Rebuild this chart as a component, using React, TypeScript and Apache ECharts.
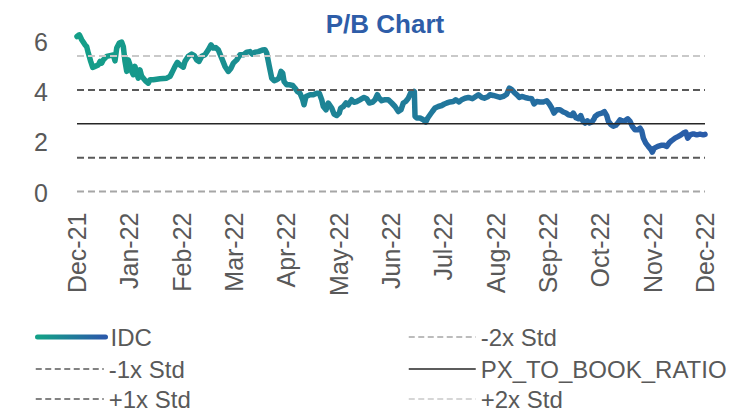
import React, { useEffect, useRef } from "react";
import * as echarts from "echarts";

// Tick labels (one per month, evenly spaced on the x axis)
const monthLabels = [
  "Dec-21", "Jan-22", "Feb-22", "Mar-22", "Apr-22", "May-22", "Jun-22",
  "Jul-22", "Aug-22", "Sep-22", "Oct-22", "Nov-22", "Dec-22",
];

// Position of each observation, in months since Dec-21
const monthPos = [
  0.0, 0.044, 0.09, 0.153, 0.185, 0.216, 0.262, 0.3, 0.344, 0.407, 0.44, 0.472, 0.503, 0.568, 0.631, 0.694,
  0.726, 0.759, 0.808, 0.854, 0.885, 0.917, 0.95, 0.98, 1.013, 1.045, 1.076, 1.108, 1.141, 1.171, 1.204,
  1.236, 1.267, 1.319, 1.363, 1.395, 1.458, 1.586, 1.714, 1.777, 1.81, 1.873, 1.917, 1.968, 2.031, 2.064,
  2.127, 2.192, 2.242, 2.287, 2.331, 2.383, 2.446, 2.509, 2.561, 2.605, 2.651, 2.7, 2.765, 2.828, 2.891,
  2.943, 2.987, 3.052, 3.115, 3.178, 3.243, 3.306, 3.35, 3.401, 3.465, 3.541, 3.593, 3.625, 3.669, 3.721,
  3.77, 3.816, 3.86, 3.898, 3.931, 3.956, 4.007, 4.057, 4.122, 4.166, 4.21, 4.261, 4.313, 4.338, 4.376,
  4.453, 4.516, 4.581, 4.63, 4.676, 4.707, 4.758, 4.802, 4.867, 4.911, 4.963, 5.012, 5.039, 5.089, 5.14,
  5.184, 5.249, 5.293, 5.345, 5.408, 5.484, 5.536, 5.586, 5.651, 5.695, 5.739, 5.777, 5.823, 5.886, 5.949,
  6.014, 6.077, 6.14, 6.191, 6.235, 6.281, 6.331, 6.383, 6.407, 6.446, 6.459, 6.492, 6.555, 6.618, 6.664,
  6.702, 6.746, 6.79, 6.841, 6.904, 6.969, 7.019, 7.065, 7.128, 7.191, 7.237, 7.3, 7.351, 7.414, 7.478,
  7.554, 7.619, 7.669, 7.734, 7.783, 7.86, 7.892, 7.955, 8.02, 8.083, 8.146, 8.211, 8.261, 8.307, 8.351,
  8.403, 8.452, 8.498, 8.561, 8.624, 8.689, 8.733, 8.785, 8.848, 8.911, 8.976, 9.025, 9.071, 9.115, 9.167,
  9.23, 9.293, 9.344, 9.389, 9.453, 9.484, 9.535, 9.58, 9.625, 9.664, 9.708, 9.752, 9.79, 9.836, 9.88,
  9.899, 9.962, 10.027, 10.077, 10.122, 10.153, 10.205, 10.248, 10.294, 10.333, 10.377, 10.421, 10.472,
  10.524, 10.568, 10.612, 10.663, 10.715, 10.759, 10.791, 10.822, 10.868, 10.917, 10.969, 10.994, 11.032,
  11.097, 11.16, 11.223, 11.269, 11.313, 11.364, 11.427, 11.491, 11.542, 11.586, 11.632, 11.67, 11.715,
  11.758, 11.796, 11.842, 11.905, 11.968, 12.0,
];

// IDC price-to-book ratio
const pbValues = [
  6.22, 6.29, 6.09, 5.89, 5.82, 5.56, 5.23, 4.99, 5.03, 5.09, 5.23, 5.16, 5.29, 5.43, 5.46, 5.49,
  5.25, 5.76, 5.96, 6.0, 5.82, 5.23, 4.83, 5.29, 5.09, 4.83, 4.7, 5.03, 4.76, 4.56, 4.89,
  4.63, 4.56, 4.43, 4.36, 4.5, 4.5, 4.54, 4.56, 4.63, 4.76, 5.03, 5.19, 5.09, 5.0, 5.23,
  5.43, 5.52, 5.46, 5.29, 5.23, 5.43, 5.49, 5.69, 5.89, 5.76, 5.78, 5.69, 5.36, 5.03, 4.83,
  4.96, 5.16, 5.29, 5.49, 5.49, 5.6, 5.62, 5.52, 5.6, 5.62, 5.68, 5.69, 5.56, 5.09, 4.56,
  4.46, 4.5, 4.56, 4.83, 4.76, 4.43, 4.3, 4.3, 4.27, 4.16, 4.03, 3.96, 3.7, 3.5, 3.83,
  3.9, 3.9, 3.96, 3.96, 3.7, 3.43, 3.3, 3.57, 3.37, 3.13, 3.07, 3.17, 3.37, 3.43, 3.57,
  3.5, 3.7, 3.6, 3.63, 3.7, 3.79, 3.74, 3.57, 3.61, 3.7, 3.9, 3.76, 3.66, 3.7, 3.7,
  3.57, 3.43, 3.23, 3.3, 3.57, 3.63, 3.76, 4.0, 3.9, 4.03, 3.03, 2.97, 2.97, 2.9, 2.81,
  2.97, 3.1, 3.23, 3.37, 3.43, 3.47, 3.53, 3.57, 3.61, 3.63, 3.7, 3.61, 3.7, 3.76, 3.79,
  3.74, 3.83, 3.9, 3.79, 3.76, 3.83, 3.9, 3.87, 3.83, 3.79, 3.83, 3.92, 4.16, 4.1, 4.0,
  3.9, 3.79, 3.83, 3.79, 3.76, 3.74, 3.53, 3.63, 3.61, 3.61, 3.66, 3.53, 3.37, 3.17, 3.3,
  3.3, 3.21, 3.17, 3.1, 3.07, 3.17, 2.98, 2.94, 3.07, 2.86, 2.77, 2.86, 2.77, 2.81, 2.94,
  3.03, 3.13, 3.17, 3.23, 3.07, 2.84, 2.7, 2.64, 2.68, 2.77, 2.9, 2.84, 2.86,
  2.94, 2.84, 2.64, 2.5, 2.5, 2.57, 2.46, 2.17, 1.97, 1.84, 1.71, 1.61, 1.77,
  1.84, 1.88, 1.88, 1.84, 1.97, 2.07, 2.17, 2.24, 2.3, 2.37, 2.41, 2.17, 2.3,
  2.33, 2.33, 2.3, 2.33, 2.3, 2.32,
];

// Standard-deviation bands around the average P/B
const bandNames = ["-2x Std", "-1x Std", "PX_TO_BOOK_RATIO", "+1x Std", "+2x Std"];
const bandValues = [0.04, 1.39, 2.74, 4.09, 5.44];

// Y axis ticks
const yTicks = [0, 2, 4, 6];

const FONT = "'Liberation Sans', Arial, sans-serif";
const TEXT = "#595959";
const FS = 24;

const bandStyles: Record<string, any> = {
  "-2x Std": { color: "#a6a6a6", width: 2, type: [7, 4] },
  "-1x Std": { color: "#595959", width: 2, type: [7, 4] },
  PX_TO_BOOK_RATIO: { color: "#262626", width: 1.5, type: "solid" },
  "+1x Std": { color: "#595959", width: 2, type: [7, 4] },
  "+2x Std": { color: "#c9c9c9", width: 2, type: [7, 4] },
};

const GRAD_STOPS = [
  { offset: 0, color: "#149F88" },
  { offset: 1, color: "#2A5BA9" },
];

export default function App() {
  const ref = useRef<HTMLDivElement>(null);

  useEffect(() => {
    if (!ref.current) return;
    const chart = echarts.init(ref.current, null, { renderer: "svg" });

    const grad = new echarts.graphic.LinearGradient(0, 0, 1, 0, GRAD_STOPS);

    const idcData = monthPos.map((m, i) => [m, pbValues[i]]);
    const xStart = monthPos[0];
    const xEnd = monthPos[monthPos.length - 1];

    const series: any[] = [
      {
        name: "IDC",
        type: "line",
        data: idcData,
        symbol: "none",
        lineStyle: { color: grad, width: 5.5, cap: "round", join: "round" },
        itemStyle: { color: "#1F7D98" },
        z: 2,
      },
      ...bandNames.map((n, i) => ({
        name: n,
        type: "line",
        data: [
          [xStart, bandValues[i]],
          [xEnd, bandValues[i]],
        ],
        symbol: "none",
        lineStyle: bandStyles[n],
        itemStyle: { color: bandStyles[n].color },
        z: 3,
      })),
    ];

    const legendItems = [
      { name: "IDC", left: 35, w: 68, row: 0 },
      { name: "-1x Std", left: 35, w: 68, row: 1 },
      { name: "+1x Std", left: 35, w: 68, row: 2 },
      { name: "-2x Std", left: 408, w: 67, row: 0 },
      { name: "PX_TO_BOOK_RATIO", left: 408, w: 67, row: 1 },
      { name: "+2x Std", left: 408, w: 67, row: 2 },
    ];
    const rowCenters = [337, 369, 399];
    const LH = 24;

    const legends = legendItems.map((it) => {
      const st = bandStyles[it.name];
      const item: any = {
        name: it.name,
        itemStyle: { opacity: 0, color: "transparent", borderWidth: 0 },
      };
      if (st) {
        item.lineStyle = {
          color: st.color,
          width: 1.5,
          type: st.type === "solid" ? "solid" : [6, 3.5],
          opacity: 1,
        };
      } else {
        item.lineStyle = {
          color: new echarts.graphic.LinearGradient(3, 0, it.w - 3, 0, GRAD_STOPS, true),
          width: 5,
          cap: "round",
          opacity: 1,
        };
      }
      return {
        show: true,
        orient: "horizontal",
        left: it.left,
        top: rowCenters[it.row] - LH / 2,
        padding: 0,
        itemWidth: it.w,
        itemHeight: LH,
        selectedMode: false,
        data: [item],
        textStyle: {
          color: TEXT,
          fontSize: FS,
          lineHeight: LH,
          fontFamily: FONT,
        },
      };
    });

    chart.setOption({
      animation: false,
      backgroundColor: "#ffffff",
      title: {
        text: "P/B Chart",
        left: 385,
        top: 10,
        textAlign: "center",
        padding: 0,
        textStyle: {
          color: "#2E5DA8",
          fontSize: 26,
          fontWeight: "bold",
          fontFamily: FONT,
          lineHeight: 28,
        },
      },
      grid: {
        left: 77,
        right: 33,
        top: 17,
        bottom: 219.5,
        containLabel: false,
        outerBoundsMode: "none",
      },
      xAxis: {
        type: "value",
        min: 0,
        max: monthLabels.length - 1,
        interval: 1,
        axisLine: { show: false },
        axisTick: { show: false },
        splitLine: { show: false },
        axisLabel: {
          rotate: 90,
          margin: 20,
          color: TEXT,
          fontSize: 25,
          fontFamily: FONT,
          formatter: (v: number) => monthLabels[Math.round(v)] ?? "",
        },
      },
      yAxis: {
        type: "value",
        min: 0,
        max: 7,
        interval: 2,
        axisLine: { show: false },
        axisTick: { show: false },
        splitLine: { show: false },
        axisLabel: {
          margin: 29,
          color: TEXT,
          fontSize: 25,
          fontFamily: FONT,
          showMaxLabel: false,
          formatter: (v: number) => (yTicks.includes(v) ? String(v) : ""),
        },
      },
      legend: legends,
      series,
    });

    return () => chart.dispose();
  }, []);

  return (
    <div
      ref={ref}
      style={{ position: "fixed", left: 0, top: 0, width: 738, height: 412, background: "#fff" }}
    />
  );
}
